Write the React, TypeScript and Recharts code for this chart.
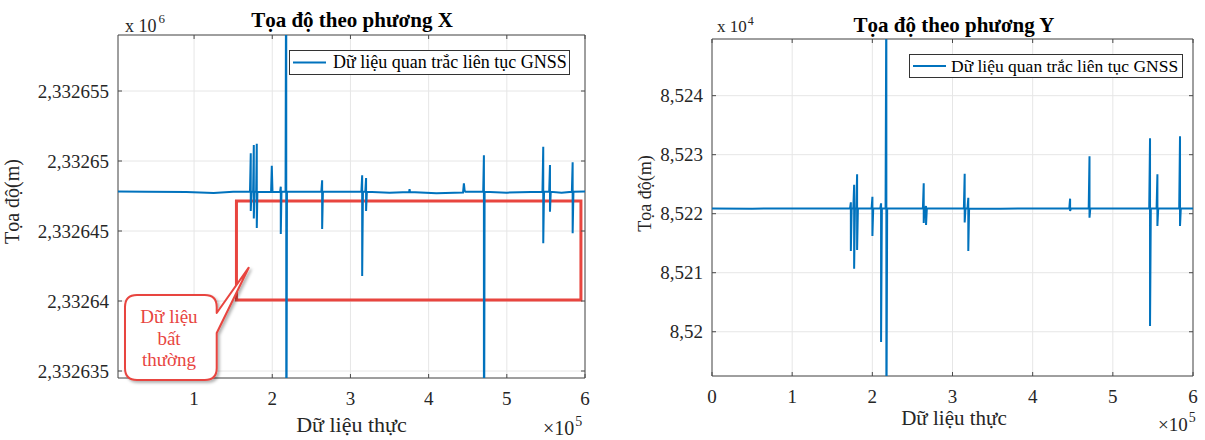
import {
  CartesianGrid,
  Legend,
  Line,
  LineChart,
  ReferenceArea,
  XAxis,
  YAxis
} from "recharts";

const FONT = '"Liberation Serif", "Times New Roman", serif';
const BLUE = "#0072BD";
const RED = "#e8453f";
const GRID = "#e6e6e6";
const AXIS = "#4a4a4a";
const TEXT = "#262626";

// Tọa độ theo phương X (m)
const sampleX = [
  2700, 40000, 90000, 125000, 150000, 171500, 172500, 172500, 173500, 175500,
  176400, 176400, 177300, 179400, 180200, 180200, 181000, 198500, 199400, 200300,
  210000, 210900, 210900, 211800, 217000, 217900, 217900, 218800, 262800, 263800,
  263800, 264800, 314000, 315000, 315000, 316000, 319000, 320000, 320000, 321000,
  350000, 375000, 375600, 376200, 410000, 444000, 445100, 446000, 447000, 469800,
  470700, 470700, 471600, 500000, 545600, 546600, 546600, 547600, 554200, 555200,
  555200, 556200, 570000, 583200, 584200, 584200, 585200, 600000
];
const coordX = [
  2332647.82, 2332647.8, 2332647.78, 2332647.72, 2332647.8, 2332647.82, 2332650.55, 2332646.43, 2332647.8, 2332647.8,
  2332651.14, 2332645.9, 2332647.8, 2332647.8, 2332651.24, 2332645.21, 2332647.8, 2332647.78, 2332649.66, 2332647.78,
  2332647.8, 2332648.16, 2332644.79, 2332647.8, 2332647.8, 2332670, 2332620, 2332647.8, 2332647.82, 2332648.62,
  2332645.14, 2332647.8, 2332647.8, 2332648.98, 2332641.79, 2332647.8, 2332647.8, 2332648.79, 2332646.43, 2332647.8,
  2332647.74, 2332647.78, 2332647.98, 2332647.78, 2332647.7, 2332647.75, 2332648.41, 2332647.9, 2332647.8, 2332647.8,
  2332650.41, 2332620, 2332647.8, 2332647.74, 2332647.8, 2332651.02, 2332644.12, 2332647.8, 2332647.8, 2332649.71,
  2332646.38, 2332647.8, 2332647.74, 2332647.8, 2332649.91, 2332644.84, 2332647.8, 2332647.82
];

// Tọa độ theo phương Y (m)
const sampleY = [
  0, 50000, 100000, 150000, 172200, 173200, 173200, 174200, 176300, 177300,
  177300, 178300, 180000, 181000, 181000, 182000, 199100, 200100, 200100, 201100,
  209900, 210900, 210900, 211900, 216500, 217500, 217500, 218500, 263100, 264100,
  264100, 265100, 266000, 267000, 267000, 268000, 314200, 315200, 315200, 316200,
  318700, 319700, 319700, 320700, 360000, 400000, 445700, 446700, 446700, 447700,
  469900, 470900, 470900, 471900, 520000, 545400, 546400, 546400, 547400, 554600,
  555600, 555600, 556600, 582800, 583800, 583800, 584800, 600000
];
const coordY = [
  85220.9, 85220.85, 85220.9, 85220.88, 85220.9, 85221.93, 85213.68, 85220.9, 85220.9, 85224.92,
  85210.68, 85220.9, 85220.9, 85226.68, 85213.85, 85220.9, 85220.9, 85222.88, 85216.22, 85220.9,
  85220.9, 85221.76, 85198.25, 85220.9, 85220.9, 85260, 85180, 85220.9, 85220.9, 85225.15,
  85218.42, 85220.9, 85220.9, 85221.3, 85218.08, 85220.9, 85220.9, 85226.78, 85218.5, 85220.9,
  85220.9, 85222.71, 85213.68, 85220.9, 85220.85, 85220.9, 85220.9, 85222.54, 85220.46, 85220.9,
  85220.9, 85229.73, 85219.32, 85220.9, 85220.88, 85220.9, 85232.78, 85200.97, 85220.9, 85220.9,
  85226.68, 85217.92, 85220.9, 85220.9, 85233.12, 85217.92, 85220.9, 85220.9
];

const xTicksLeft = [100000, 200000, 300000, 400000, 500000, 600000];
const xTicksRight = [0, 100000, 200000, 300000, 400000, 500000, 600000];
const xTickLabels = ["0", "1", "2", "3", "4", "5", "6"];

const yTicksX = [2332635, 2332640, 2332645, 2332650, 2332655];
const yLabelsX = ["2,332635", "2,33264", "2,332645", "2,33265", "2,332655"];
const yTicksY = [85200, 85210, 85220, 85230, 85240];
const yLabelsY = ["8,52", "8,521", "8,522", "8,523", "8,524"];

const legendText = "Dữ liệu quan trắc liên tục GNSS";

const dataX = sampleX.map((x, i) => ({ x, y: coordX[i] }));
const dataY = sampleY.map((x, i) => ({ x, y: coordY[i] }));

const TICK_LEN = 4;

// MATLAB style: label outside, short tick marks pointing inward on both sides of the box
function xTick(top: number, bottom: number) {
  return (props: any) => {
    const { x, y, payload } = props;
    const label = xTickLabels[Math.round(payload.value / 100000)];
    return (
      <g>
        <line x1={x} x2={x} y1={bottom} y2={bottom - TICK_LEN} stroke={AXIS} />
        <line x1={x} x2={x} y1={top} y2={top + TICK_LEN} stroke={AXIS} />
        <text x={x} y={y} dy="0.71em" textAnchor="middle" fontSize={19} fontFamily={FONT} fill={TEXT}>
          {label}
        </text>
      </g>
    );
  };
}

function yTick(left: number, right: number, ticks: number[], labels: string[]) {
  return (props: any) => {
    const { x, y, payload } = props;
    const label = labels[ticks.indexOf(payload.value)];
    return (
      <g>
        <line x1={left} x2={left + TICK_LEN} y1={y} y2={y} stroke={AXIS} />
        <line x1={right} x2={right - TICK_LEN} y1={y} y2={y} stroke={AXIS} />
        <text x={x} y={y} dy="0.355em" textAnchor="end" fontSize={19} fontFamily={FONT} fill={TEXT}>
          {label}
        </text>
      </g>
    );
  };
}

function LegendBox({ w, h, textX, lineEnd, size }: { w: number; h: number; textX: number; lineEnd: number; size: number }) {
  return (
    <svg width={w} height={h} style={{ display: "block" }}>
      <rect x={0.5} y={0.5} width={w - 1} height={h - 1} fill="#fff" stroke="#333" />
      <line x1={4} x2={lineEnd} y1={h / 2} y2={h / 2} stroke={BLUE} strokeWidth={2} />
      <text x={textX} y={h / 2 + size * 0.33} fontSize={size} fontFamily={FONT} fill="#000">
        {legendText}
      </text>
    </svg>
  );
}

export default function App() {
  return (
    <div
      style={{ position: "absolute", left: 0, top: 0, width: 1205, height: 440, background: "#fff", fontFamily: FONT }}
    >
      <div style={{ position: "absolute", left: 0, top: 0 }}>
        <LineChart
          width={600}
          height={440}
          data={dataX}
          margin={{ top: 35, right: 15, bottom: 0, left: 0 }}
          style={{ fontFamily: FONT }}
        >
          <CartesianGrid stroke={GRID} />
          <XAxis
            type="number"
            dataKey="x"
            domain={[2700, 600000]}
            ticks={xTicksLeft}
            interval={0}
            height={62}
            axisLine={false}
            tickLine={false}
            tickSize={6}
            tickMargin={7.5}
            tick={xTick(35, 378)}
            allowDataOverflow
          />
          <YAxis
            type="number"
            domain={[2332634.5, 2332659]}
            ticks={yTicksX}
            interval={0}
            width={118}
            axisLine={false}
            tickLine={false}
            tickSize={6}
            tickMargin={3}
            tick={yTick(118, 585, yTicksX, yLabelsX)}
            allowDataOverflow
          />
          <ReferenceArea
            x1={2700}
            x2={600000}
            y1={2332634.5}
            y2={2332659}
            fill="none"
            stroke={AXIS}
            ifOverflow="visible"
          />
          <Line type="linear" dataKey="y" stroke={BLUE} strokeWidth={2} dot={false} isAnimationActive={false} />
          <ReferenceArea
            x1={154200}
            x2={594800}
            y1={2332640.07}
            y2={2332647.14}
            fill="none"
            stroke={RED}
            strokeWidth={3}
            ifOverflow="visible"
          />
          <Legend
            layout="horizontal"
            verticalAlign="middle"
            align="center"
            wrapperStyle={{ left: 289, top: 50, width: 281, height: 25 }}
            content={() => <LegendBox w={281} h={25} textX={44} lineEnd={37} size={18} />}
          />
        </LineChart>
      </div>

      <div style={{ position: "absolute", left: 600, top: 0 }}>
        <LineChart
          width={605}
          height={440}
          data={dataY}
          margin={{ top: 39, right: 12, bottom: 0, left: 0 }}
          style={{ fontFamily: FONT }}
        >
          <CartesianGrid stroke={GRID} />
          <XAxis
            type="number"
            dataKey="x"
            domain={[0, 600000]}
            ticks={xTicksRight}
            interval={0}
            height={64}
            axisLine={false}
            tickLine={false}
            tickSize={6}
            tickMargin={7.5}
            tick={xTick(39, 376)}
            allowDataOverflow
          />
          <YAxis
            type="number"
            domain={[85192.5, 85249.6]}
            ticks={yTicksY}
            interval={0}
            width={112}
            axisLine={false}
            tickLine={false}
            tickSize={6}
            tickMargin={3}
            tick={yTick(112, 593, yTicksY, yLabelsY)}
            allowDataOverflow
          />
          <ReferenceArea x1={0} x2={600000} y1={85192.5} y2={85249.6} fill="none" stroke={AXIS} ifOverflow="visible" />
          <Line type="linear" dataKey="y" stroke={BLUE} strokeWidth={2} dot={false} isAnimationActive={false} />
          <Legend
            layout="horizontal"
            verticalAlign="middle"
            align="center"
            wrapperStyle={{ left: 309, top: 54, width: 274, height: 24 }}
            content={() => <LegendBox w={274} h={24} textX={42} lineEnd={37} size={17.5} />}
          />
        </LineChart>
      </div>

      <svg
        width={1205}
        height={440}
        style={{ position: "absolute", left: 0, top: 0, pointerEvents: "none" }}
        fontFamily={FONT}
      >
        <defs>
          <filter id="shadow" x="-20%" y="-20%" width="150%" height="150%">
            <feDropShadow dx="2" dy="2" stdDeviation="1.5" floodColor="#000" floodOpacity="0.3" />
          </filter>
        </defs>

        <text x={352} y={27} textAnchor="middle" fontSize={21} fontWeight="bold" fill="#000">
          Tọa độ theo phương X
        </text>
        <text x={954} y={32} textAnchor="middle" fontSize={21} fontWeight="bold" fill="#000">
          Tọa độ theo phương Y
        </text>

        <text x={125} y={32} fontSize={18} fill={TEXT}>
          x 10<tspan dx={2} dy={-9} fontSize={13}>6</tspan>
        </text>
        <text x={717} y={32} fontSize={17} fill={TEXT}>
          x 10<tspan dx={1} dy={-7} fontSize={12}>4</tspan>
        </text>

        <text x={543} y={435} fontSize={20} fill={TEXT}>
          ×10<tspan dx={1} dy={-9} fontSize={14}>5</tspan>
        </text>
        <text x={1158} y={431} fontSize={19} fill={TEXT}>
          ×10<tspan dx={1} dy={-9} fontSize={14}>5</tspan>
        </text>

        <text x={351.5} y={432} textAnchor="middle" fontSize={22} fill={TEXT}>Dữ liệu thực</text>
        <text x={954} y={425} textAnchor="middle" fontSize={21} fill={TEXT}>Dữ liệu thực</text>

        <text transform="translate(19 201.5) rotate(-90)" textAnchor="middle" fontSize={20} fill={TEXT}>
          Tọa độ(m)
        </text>
        <text transform="translate(651 193.5) rotate(-90)" textAnchor="middle" fontSize={18} fill={TEXT}>
          Tọa độ(m)
        </text>

        <path
          d="M137 295 L204.7 295 Q216.7 295 216.7 307 L216.7 313 L248.7 267.7 L216.7 333 L216.7 368 Q216.7 380 204.7 380 L137 380 Q125 380 125 368 L125 307 Q125 295 137 295 Z"
          fill="#fff"
          stroke={RED}
          strokeWidth={2}
          strokeLinejoin="round"
          filter="url(#shadow)"
        />
        <text textAnchor="middle" fontSize={19} fill={RED}>
          <tspan x={169} y={323}>Dữ liệu</tspan>
          <tspan x={169} y={345}>bất</tspan>
          <tspan x={169} y={366}>thường</tspan>
        </text>
      </svg>
    </div>
  );
}
